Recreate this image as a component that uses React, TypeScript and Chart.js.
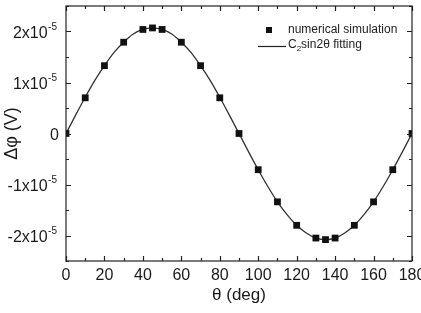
import React, { useEffect, useRef } from 'react';
import { Chart, registerables } from 'chart.js';
Chart.register(...registerables);

// numerical simulation (values in units of 1e-5 V)
const simAngles = [0, 10, 20, 30, 40, 45, 50, 60, 70, 80, 90, 100, 110, 120, 130, 135, 140, 150, 160, 170, 180];
const simValues = [0, 0.70, 1.33, 1.79, 2.04, 2.07, 2.04, 1.79, 1.33, 0.70, 0, -0.71, -1.34, -1.80, -2.05, -2.08, -2.05, -1.80, -1.34, -0.71, 0];

// C2 sin2θ fitting curve (units of 1e-5 V)
const fitAngles = [0, 5, 10, 15, 20, 25, 30, 35, 40, 45, 50, 55, 60, 65, 70, 75, 80, 85, 90, 95, 100, 105, 110, 115, 120, 125, 130, 135, 140, 145, 150, 155, 160, 165, 170, 175, 180];
const fitValues = [0, 0.36, 0.71, 1.04, 1.33, 1.59, 1.79, 1.95, 2.04, 2.07, 2.04, 1.95, 1.79, 1.59, 1.33, 1.04, 0.71, 0.36, 0, -0.36, -0.71, -1.04, -1.34, -1.59, -1.80, -1.95, -2.05, -2.08, -2.05, -1.95, -1.80, -1.59, -1.34, -1.04, -0.71, -0.36, 0];

const xTickValues = [0, 20, 40, 60, 80, 100, 120, 140, 160, 180];
const xMinorTicks = [0, 10, 20, 30, 40, 50, 60, 70, 80, 90, 100, 110, 120, 130, 140, 150, 160, 170, 180];
const yTickValues = [-2, -1, 0, 1, 2];
const yTickBase = ['-2x10', '-1x10', '0', '1x10', '2x10'];
const yTickExp = ['-5', '-5', '', '-5', '-5'];
const yMinorTicks = [-2.5, -2, -1.5, -1, -0.5, 0, 0.5, 1, 1.5, 2, 2.5];
const yMajorTicks = [-2, -1, 0, 1, 2];

const legendLabels = ['numerical simulation', 'sin2\u03B8 fitting'];

const FONT = '"Liberation Sans", Arial, sans-serif';
const TEXT = '#1a1a1a';

const framePlugin = {
  id: 'frame',
  afterDatasetsDraw(chart: any) {
    const { ctx, chartArea: a, scales } = chart;
    const x = scales.x;
    const y = scales.y;
    ctx.save();
    ctx.strokeStyle = '#222';
    ctx.lineWidth = 1.2;
    ctx.strokeRect(a.left, a.top, a.right - a.left, a.bottom - a.top);
    ctx.beginPath();
    for (const v of xMinorTicks) {
      const len = v % 20 === 0 ? 5 : 3;
      const px = Math.round(x.getPixelForValue(v)) + 0.5;
      ctx.moveTo(px, a.bottom);
      ctx.lineTo(px, a.bottom - len);
      ctx.moveTo(px, a.top);
      ctx.lineTo(px, a.top + len);
    }
    for (const v of yMinorTicks) {
      const len = yMajorTicks.includes(v) ? 5 : 3;
      const py = Math.round(y.getPixelForValue(v)) + 0.5;
      ctx.moveTo(a.left, py);
      ctx.lineTo(a.left + len, py);
      ctx.moveTo(a.right, py);
      ctx.lineTo(a.right - len, py);
    }
    ctx.stroke();

    // y tick labels with superscript exponent
    ctx.fillStyle = TEXT;
    ctx.textAlign = 'left';
    ctx.textBaseline = 'alphabetic';
    yTickValues.forEach((v, i) => {
      const py = y.getPixelForValue(v);
      ctx.font = '16px ' + FONT;
      const bw = ctx.measureText(yTickBase[i]).width;
      ctx.font = '10px ' + FONT;
      const ew = yTickExp[i] ? ctx.measureText(yTickExp[i]).width : 0;
      const right = yTickExp[i] ? 56.5 : 59;
      const x0 = right - bw - ew;
      ctx.font = '16px ' + FONT;
      ctx.fillText(yTickBase[i], x0, py + 6);
      if (yTickExp[i]) {
        ctx.font = '10px ' + FONT;
        ctx.fillText(yTickExp[i], x0 + bw + 0.5, py - 1.5);
      }
    });

    // legend
    ctx.fillStyle = '#111';
    ctx.fillRect(266, 27, 6, 6);
    ctx.font = '12px ' + FONT;
    ctx.textBaseline = 'middle';
    ctx.textAlign = 'left';
    ctx.fillStyle = '#222';
    ctx.fillText(legendLabels[0], 288, 29.5);
    ctx.beginPath();
    ctx.strokeStyle = '#222';
    ctx.lineWidth = 1.2;
    ctx.moveTo(258, 46.5);
    ctx.lineTo(286, 46.5);
    ctx.stroke();
    ctx.fillText('C', 288, 45);
    const cw = ctx.measureText('C').width;
    ctx.font = '8px ' + FONT;
    ctx.fillText('2', 288 + cw, 49);
    const sw = ctx.measureText('2').width;
    ctx.font = '12px ' + FONT;
    ctx.fillText(legendLabels[1], 288 + cw + sw, 45);
    ctx.restore();
  },
};

export default function App() {
  const ref = useRef<HTMLCanvasElement>(null);
  useEffect(() => {
    document.body.style.margin = '0';
    const chart = new Chart(ref.current as HTMLCanvasElement, {
      type: 'scatter',
      data: {
        datasets: [
          {
            label: 'numerical simulation',
            data: simAngles.map((a, i) => ({ x: a, y: simValues[i] })),
            pointStyle: 'rect',
            pointRadius: 4.8,
            pointBackgroundColor: '#111',
            pointBorderColor: '#111',
            pointBorderWidth: 0,
            showLine: false,
          },
          {
            label: 'C2sin2θ fitting',
            data: fitAngles.map((a, i) => ({ x: a, y: fitValues[i] })),
            showLine: true,
            pointRadius: 0,
            borderColor: '#333',
            borderWidth: 1.3,
            cubicInterpolationMode: 'monotone',
          },
        ],
      },
      options: {
        responsive: false,
        animation: false,
        devicePixelRatio: 1,
        layout: { padding: { top: 6, right: 9, left: 0, bottom: 0 } },
        plugins: { legend: { display: false }, tooltip: { enabled: false } },
        scales: {
          x: {
            type: 'linear',
            min: 0,
            max: 180,
            afterFit: (s: any) => { s.height = 52; s.paddingLeft = 0; s.paddingRight = 0; },
            afterBuildTicks: (s: any) => { s.ticks = xTickValues.map((v) => ({ value: v })); },
            grid: { display: false, drawTicks: false },
            border: { display: false },
            ticks: { padding: 5, color: TEXT, font: { family: FONT, size: 16 }, maxRotation: 0 },
            title: { display: true, text: '\u03B8 (deg)', color: TEXT, font: { family: FONT, size: 17 }, padding: { top: 0, bottom: 7 } },
          },
          y: {
            type: 'linear',
            min: -2.5,
            max: 2.5,
            afterFit: (s: any) => { s.width = 66; s.paddingTop = 0; s.paddingBottom = 0; },
            afterBuildTicks: (s: any) => { s.ticks = yTickValues.map((v) => ({ value: v })); },
            grid: { display: false, drawTicks: false },
            border: { display: false },
            ticks: { display: false },
            title: { display: true, text: '\u0394\u03C6 (V)', color: TEXT, font: { family: FONT, size: 18 }, padding: { top: 1, bottom: 0 } },
          },
        },
      },
      plugins: [framePlugin],
    });
    return () => chart.destroy();
  }, []);
  return <canvas ref={ref} width={421} height={313} style={{ display: 'block' }} />;
}
